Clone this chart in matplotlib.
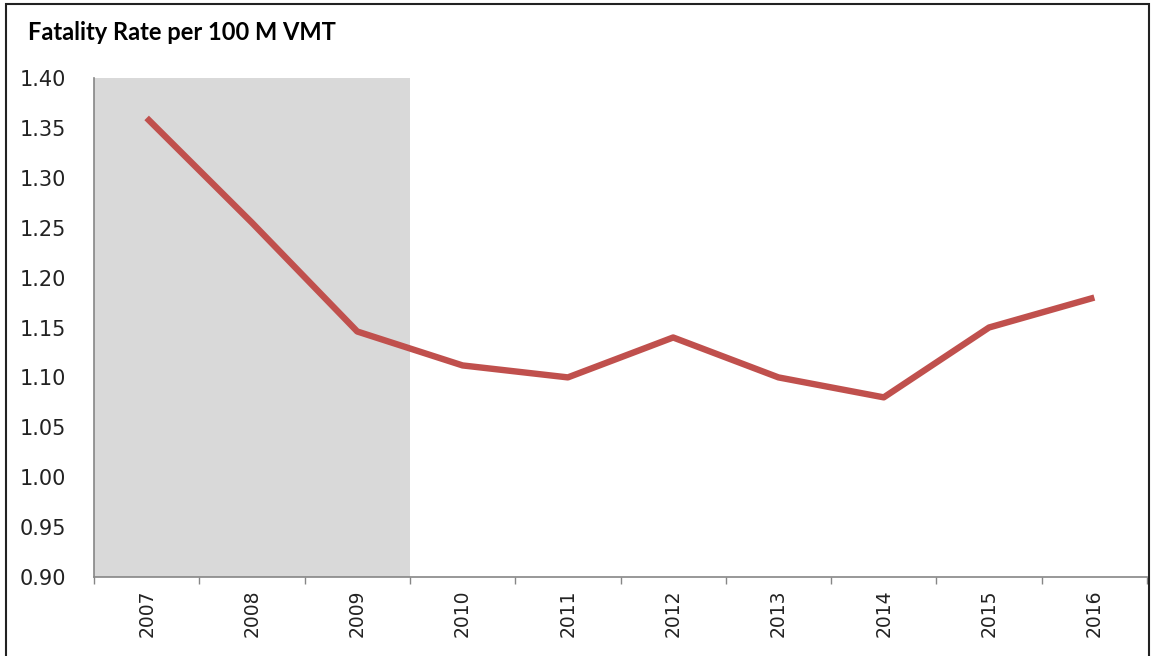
import numpy as np
import matplotlib.pyplot as plt
from matplotlib.patches import Rectangle

# Data
years = ['2007', '2008', '2009', '2010', '2011', '2012', '2013', '2014', '2015', '2016']
rate = [1.36, 1.255, 1.146, 1.112, 1.10, 1.14, 1.10, 1.08, 1.15, 1.18]
shade_years = ['2007', '2008', '2009']
y_ticks = [0.90, 0.95, 1.00, 1.05, 1.10, 1.15, 1.20, 1.25, 1.30, 1.35, 1.40]

plt.rcParams['font.family'] = ['DejaVu Sans']

W, H = 1153, 656
fig = plt.figure(figsize=(W / 100, H / 100), dpi=100)
ax = fig.add_axes([94 / W, 1 - 577 / H, (1147 - 94) / W, (577 - 78) / H])

x = np.arange(len(years))
ax.axvspan(-0.5, len(shade_years) - 0.5, color='#d9d9d9', zorder=0, lw=0)
ax.plot(x, rate, color='#c0504d', lw=4.6, solid_capstyle='butt', zorder=3)

ax.set_xlim(-0.5, len(years) - 0.5)
ax.set_ylim(0.90, 1.40)
ax.set_yticks(y_ticks)
ax.set_yticklabels([f'{v:.2f}' for v in y_ticks], fontsize=15, color='#222222')
ax.tick_params(axis='y', length=0, pad=20)

ax.set_xticks(x)
ax.set_xticklabels(years, rotation=90, fontsize=13.5, color='#222222')
ax.set_xticks(np.arange(-0.5, len(years)), minor=True)
ax.tick_params(axis='x', which='major', length=0, pad=9)
ax.tick_params(axis='x', which='minor', length=5, color='#868686', width=1)

for s in ['top', 'right']:
    ax.spines[s].set_visible(False)
for s in ['left', 'bottom']:
    ax.spines[s].set_color('#868686')
    ax.spines[s].set_linewidth(1.2)

fig.text(28 / W, 1 - 33 / H, 'Fatality Rate per 100 M VMT', fontsize=17,
         fontweight='bold', family='Lato', va='center', ha='left')

# outer frame
fig.patches.append(Rectangle((5.5 / W, -0.01), (1149 - 5.5) / W, 1 - 3.5 / H + 0.01,
                             transform=fig.transFigure, fill=False,
                             edgecolor='#222222', lw=1.5))

fig.savefig('out.png', dpi=100)
